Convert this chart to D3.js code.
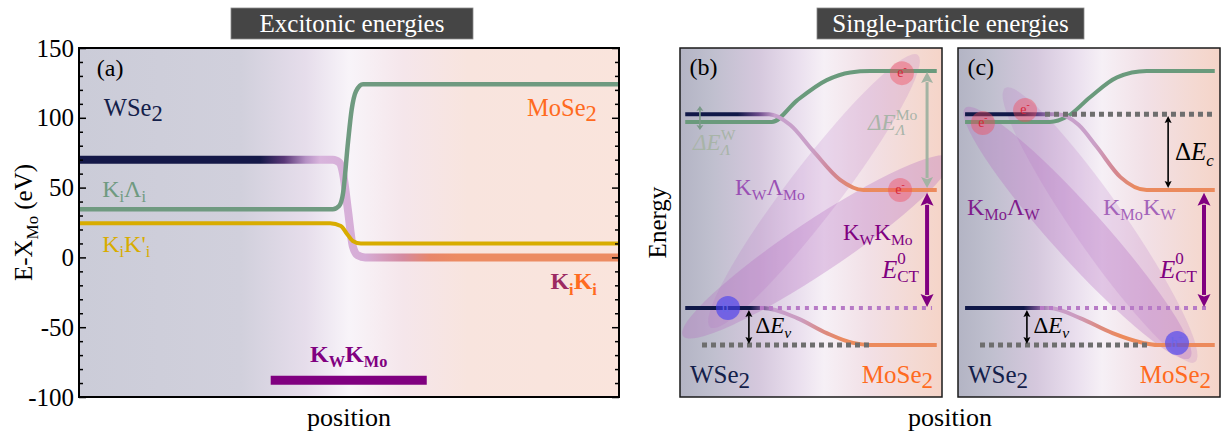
<!DOCTYPE html>
<html lang="en">
<head>
<meta charset="UTF-8">
<title>Excitonic and single-particle energies</title>
<script src="https://cdnjs.cloudflare.com/ajax/libs/d3/7.8.5/d3.min.js"></script>
<style>
  body { margin: 0; background: #fff; }
  svg { display: block; font-family: "Liberation Serif", "Times New Roman", serif; }
</style>
</head>
<body>
<svg id="fig" width="1227" height="434" font-family="Liberation Serif, serif"></svg>
<script>
// ---------- panel (a): excitonic energies, E - X_Mo vs position (0..100)
const yTicksA = [-100, -50, 0, 50, 100, 150];
const yTickLabelsA = ["-100", "-50", "0", "50", "100", "150"];
const yMinorA = [-90, -80, -70, -60, -40, -30, -20, -10, 10, 20, 30, 40, 60, 70, 80, 90, 110, 120, 130, 140];

const kikiA = [[0, 70], [47, 70], [48.2, 68], [48.9, 60], [49.8, 34], [50.7, 8], [51.6, 1.5], [53, 0], [100, 0]];
const kiLamA = [[0, 34.5], [47, 34.5], [48.2, 37], [48.9, 46], [49.8, 82], [50.5, 106], [51.3, 119], [52.6, 124], [100, 124]];
const kiKpA = [[0, 24.5], [46.5, 24.5], [48.5, 22.5], [49.6, 17], [50.7, 11.8], [52.2, 10], [100, 10]];
const kwkmoA = [[35.5, -88], [64.4, -88]];

// ---------- panels (b), (c): single-particle bands, arbitrary energy 0..100
const lamB = [[2, 78.8], [35, 78.8], [44.7, 85], [56, 90.8], [65, 93], [72.5, 93.4], [98, 93.4]];
const cbB = [[2, 81], [34, 81], [42, 78], [50.8, 70.5], [61, 62.3], [70, 59.3], [98, 59.3]];
const vbB = [[2, 25.5], [31.7, 25.5], [44.7, 22.6], [56, 18.3], [66, 15.5], [72.5, 14.9], [98, 14.9]];

const lamC = [[2.7, 78.8], [35, 78.8], [42, 80.5], [50.4, 85.9], [60.7, 91.6], [72, 93.4], [98, 93.4]];
const cbC = [[2.7, 81], [38, 81], [46, 78], [53, 71.6], [62, 63], [72, 59.3], [98, 59.3]];
const vbC = [[2.7, 25.5], [35, 25.5], [46.6, 22.6], [59, 18.3], [70.6, 15.5], [76, 14.9], [98, 14.9]];

const dotsB = [{ e: 25.5, x0: 30.5, x1: 96.2, kind: "purple" }, { e: 14.9, x0: 8.4, x1: 73.3, kind: "gray" }];
const dotsC = [{ e: 81, x0: 33.2, x1: 97.3, kind: "gray" }, { e: 25.5, x0: 31.3, x1: 96.2, kind: "purple" }, { e: 14.9, x0: 8.4, x1: 73.3, kind: "gray" }];

const ellB = [{ from: [1.1, 17.5], to: [103, 68.5], kind: "dark" }, { from: [11.5, 20], to: [90.8, 98], kind: "light" }];
const ellC = [{ from: [2.7, 82.8], to: [88.5, 11.2], kind: "dark" }, { from: [17.9, 88.5], to: [90.5, 10], kind: "light" }];

const carriersB = [{ x: 84.7, e: 92.8, q: "e" }, { x: 84, e: 59.3, q: "e" }, { x: 18.3, e: 25.5, q: "h" }];
const carriersC = [{ x: 9.5, e: 78.5, q: "e" }, { x: 25.6, e: 82.2, q: "e" }, { x: 83.6, e: 15.5, q: "h" }];

const arrowsB = [{ x: 7.6, e1: 83.4, e2: 76.5, kind: "lamW" }, { x: 94.3, e1: 93.1, e2: 59.9, kind: "lamMo" },
                 { x: 94.3, e1: 58.5, e2: 25.8, kind: "ct" }, { x: 26.3, e1: 24.9, e2: 15.2, kind: "black" }];
const arrowsC = [{ x: 80.2, e1: 80.5, e2: 59.9, kind: "black" }, { x: 93.9, e1: 58.5, e2: 25.8, kind: "ct" },
                 { x: 26.3, e1: 24.9, e2: 15.2, kind: "black" }];

const svg = d3.select("#fig");
const defs = svg.append("defs");

const xA = d3.scaleLinear().domain([0, 100]).range([79, 619]);
const yA = d3.scaleLinear().domain([-100, 150]).range([397, 48]);
const xB = d3.scaleLinear().domain([0, 100]).range([680, 942]);
const xC = d3.scaleLinear().domain([0, 100]).range([958, 1220]);
const yS = d3.scaleLinear().domain([0, 100]).range([397, 48]);

function gradient(id, stops, x1, x2) {
    const g = defs.append("linearGradient").attr("id", id)
        .attr("gradientUnits", "userSpaceOnUse")
        .attr("x1", x1).attr("x2", x2).attr("y1", 0).attr("y2", 0);
    stops.forEach(s => g.append("stop").attr("offset", s[0]).attr("stop-color", s[1]));
}

function clip(id, x, y, w, h) {
    defs.append("clipPath").attr("id", id).append("rect")
        .attr("x", x).attr("y", y).attr("width", w).attr("height", h);
}

// text with sub/superscripts laid out piece by piece
function rich(parent, x, y, pieces, o) {
    const size = o.size;
    const outer = parent.append("g")
        .attr("transform", `translate(${x},${y})` + (o.rotate ? ` rotate(${o.rotate})` : ""));
    const g = outer.append("g");
    let cx = 0, pStart = 0, pEnd = 0;
    pieces.forEach(p => {
        const k = p.k || "n";
        const fs = size * (k === "n" ? 1 : (p.s || 0.68));
        const dy = size * (p.dy !== undefined ? p.dy : { n: 0, sub: 0.22, sup: -0.42, low: 0.2 }[k]);
        if (p.gap) cx += p.gap;
        const start = p.stack ? pStart : cx;
        const t = g.append("text").attr("x", start).attr("y", dy)
            .attr("font-size", fs).attr("fill", p.c || o.color).text(p.t);
        if (p.i) t.attr("font-style", "italic");
        if (o.bold) t.attr("font-weight", "bold");
        const w = t.node().getComputedTextLength();
        if (p.stack) cx = Math.max(pEnd, start + w);
        else { pStart = start; pEnd = start + w; cx = pEnd; }
    });
    const shift = o.anchor === "end" ? -cx : o.anchor === "middle" ? -cx / 2 : 0;
    g.attr("transform", `translate(${shift},0)`);
    return outer;
}

function titleBox(x0, x1, label) {
    svg.append("rect").attr("x", x0).attr("y", 8).attr("width", x1 - x0).attr("height", 31)
        .attr("fill", "#454545").attr("stroke", "#8a8a8a").attr("stroke-width", 0.8);
    svg.append("text").attr("x", (x0 + x1) / 2).attr("y", 32).attr("text-anchor", "middle")
        .attr("font-size", 25).attr("fill", "#fff").text(label);
}

// ================= panel (a)
gradient("bgA", [[0, "#cbccd8"], [0.3, "#d1d0dc"], [0.42, "#e6ddeb"], [0.5, "#f8f4f9"],
                 [0.6, "#f5e6eb"], [0.72, "#f8e4de"], [1, "#fae4dc"]], xA(0), xA(100));
gradient("kkA", [[0, "#141848"], [0.335, "#141848"], [0.38, "#5a3878"], [0.42, "#b590c4"], [0.446, "#d8b4dc"],
                 [0.53, "#d6acd6"], [0.6, "#d48aa0"], [0.65, "#e8866a"], [0.7, "#ec8b62"], [1, "#ec8b62"]], xA(0), xA(100));
clip("clipA", xA(0), yA(150), xA(100) - xA(0), yA(-100) - yA(150));

const gA = svg.append("g");
gA.append("rect").attr("x", xA(0)).attr("y", yA(150)).attr("width", xA(100) - xA(0))
    .attr("height", yA(-100) - yA(150)).attr("fill", "url(#bgA)");

const lineA = d3.line().x(d => xA(d[0])).y(d => yA(d[1])).curve(d3.curveMonotoneX);
const plotA = gA.append("g").attr("clip-path", "url(#clipA)");
plotA.append("path").attr("d", lineA(kikiA)).attr("fill", "none").attr("stroke", "url(#kkA)").attr("stroke-width", 8);
plotA.append("path").attr("d", lineA(kiLamA)).attr("fill", "none").attr("stroke", "#6f9a80").attr("stroke-width", 4.5);
plotA.append("path").attr("d", lineA(kiKpA)).attr("fill", "none").attr("stroke", "#d8ac00").attr("stroke-width", 4);
plotA.append("path").attr("d", d3.line().x(d => xA(d[0])).y(d => yA(d[1]))(kwkmoA))
    .attr("fill", "none").attr("stroke", "#800080").attr("stroke-width", 9);

function axisStyle(sel) {
    sel.select(".domain").remove();
    sel.attr("font-family", null).attr("font-size", 25);
    sel.selectAll("line").attr("stroke", "#000").attr("stroke-width", 1.5);
    sel.selectAll("text").attr("fill", "#000");
}
gA.append("g").attr("transform", `translate(${xA(0)},0)`)
    .call(d3.axisLeft(yA).tickValues(yTicksA).tickFormat(d => yTickLabelsA[yTicksA.indexOf(d)]).tickSize(-7).tickPadding(5))
    .call(axisStyle);
gA.append("g").attr("transform", `translate(${xA(0)},0)`)
    .call(d3.axisLeft(yA).tickValues(yMinorA).tickFormat("").tickSize(-4)).call(axisStyle);
gA.append("g").attr("transform", `translate(${xA(100)},0)`)
    .call(d3.axisRight(yA).tickValues(yTicksA).tickFormat("").tickSize(-7)).call(axisStyle);
gA.append("g").attr("transform", `translate(${xA(100)},0)`)
    .call(d3.axisRight(yA).tickValues(yMinorA).tickFormat("").tickSize(-4)).call(axisStyle);

gA.append("rect").attr("x", xA(0)).attr("y", yA(150)).attr("width", xA(100) - xA(0))
    .attr("height", yA(-100) - yA(150)).attr("fill", "none").attr("stroke", "#000").attr("stroke-width", 2);

rich(gA, xA(3.3), yA(130), [{ t: "(a)" }], { size: 24, color: "#000" });
rich(gA, xA(4.6), yA(101.5), [{ t: "WSe" }, { t: "2", k: "low", s: 0.92 }], { size: 24.5, color: "#14204a" });
rich(gA, xA(95.9), yA(101.5), [{ t: "MoSe" }, { t: "2", k: "low", s: 0.92 }], { size: 24.5, color: "#ff6a20", anchor: "end" });
rich(gA, xA(4.3), yA(43.5), [{ t: "K" }, { t: "i", k: "sub" }, { t: "Λ" }, { t: "i", k: "sub" }], { size: 24, color: "#6f9a80" });
rich(gA, xA(4.3), yA(4), [{ t: "K" }, { t: "i", k: "sub" }, { t: "K'" }, { t: "i", k: "sub" }], { size: 24, color: "#d8ac00" });
rich(gA, xA(95.9), yA(-22.9), [{ t: "K", c: "#9c2a62" }, { t: "i", k: "sub", c: "#ff6a20" }, { t: "K", c: "#ff6a20" }, { t: "i", k: "sub", c: "#ff6a20" }],
    { size: 24, color: "#ff6a20", bold: true, anchor: "end" });
rich(gA, xA(42.8), yA(-75), [{ t: "K" }, { t: "W", k: "sub" }, { t: "K" }, { t: "Mo", k: "sub" }], { size: 24, color: "#800080", bold: true });

rich(svg, 32, (yA(150) + yA(-100)) / 2, [{ t: "E-X" }, { t: "Mo", k: "sub" }, { t: "(eV)", gap: 6 }],
    { size: 25, color: "#000", rotate: -90, anchor: "middle" });
svg.append("text").attr("x", (xA(0) + xA(100)) / 2).attr("y", 426).attr("text-anchor", "middle")
    .attr("font-size", 26).text("position");
titleBox(231, 473, "Excitonic energies");

// ================= panels (b), (c)
const bgStops = [[0, "#b3b4c4"], [0.12, "#bfbfce"], [0.3, "#d5c8dd"], [0.45, "#eadfee"], [0.55, "#f6f0f6"],
                 [0.72, "#f2e0e6"], [0.9, "#f4d9d2"], [1, "#f5d4c8"]];

function drawPanel(id, x, lam, cb, vb, dots, ells, carriers, arrows, cbStops, vbStops) {
    const [x0, x1] = x.range();
    const top = yS(100), bot = yS(0);
    gradient("bg" + id, bgStops, x0, x1);
    gradient("cb" + id, cbStops, x0, x1);
    gradient("vb" + id, vbStops, x0, x1);
    clip("clip" + id, x0, top, x1 - x0, bot - top);

    const g = svg.append("g");
    g.append("rect").attr("x", x0).attr("y", top).attr("width", x1 - x0).attr("height", bot - top).attr("fill", `url(#bg${id})`);
    const p = g.append("g").attr("clip-path", `url(#clip${id})`);

    // exciton ellipses, drawn from end point to end point
    ells.forEach(el => {
        const ax = x(el.from[0]), ay = yS(el.from[1]), bx = x(el.to[0]), by = yS(el.to[1]);
        const len = Math.hypot(bx - ax, by - ay) / 2;
        const ang = Math.atan2(by - ay, bx - ax) * 180 / Math.PI;
        p.append("ellipse").attr("cx", 0).attr("cy", 0).attr("rx", len).attr("ry", 26)
            .attr("transform", `translate(${(ax + bx) / 2},${(ay + by) / 2}) rotate(${ang})`)
            .attr("fill", "#b46cc2").attr("opacity", el.kind === "dark" ? 0.32 : 0.2);
    });

    const line = d3.line().x(d => x(d[0])).y(d => yS(d[1])).curve(d3.curveMonotoneX);
    p.append("path").attr("d", line(lam)).attr("fill", "none").attr("stroke", "#6a9a7c").attr("stroke-width", 4);
    p.append("path").attr("d", line(cb)).attr("fill", "none").attr("stroke", `url(#cb${id})`).attr("stroke-width", 4);
    p.append("path").attr("d", line(vb)).attr("fill", "none").attr("stroke", `url(#vb${id})`).attr("stroke-width", 4);

    dots.forEach(d => {
        p.append("line").attr("x1", x(d.x0)).attr("x2", x(d.x1)).attr("y1", yS(d.e)).attr("y2", yS(d.e))
            .attr("stroke", d.kind === "gray" ? "#6e6e6e" : "#b77ac6")
            .attr("stroke-width", d.kind === "gray" ? 5 : 4)
            .attr("stroke-dasharray", d.kind === "gray" ? "5 4" : "4 5");
    });

    carriers.forEach(c => {
        const cx = x(c.x), cy = yS(c.e);
        p.append("circle").attr("cx", cx).attr("cy", cy).attr("r", 12)
            .attr("fill", c.q === "e" ? "#f04a5a" : "#4a44f0").attr("opacity", c.q === "e" ? 0.42 : 0.65);
        rich(p, cx, cy + 4, [{ t: c.q }, { t: c.q === "e" ? "-" : "+", k: "sup", s: 0.7 }],
            { size: 14, color: c.q === "e" ? "#d8283c" : "#6a66e8", anchor: "middle" });
    });

    const arrowStyle = {
        black: { c: "#000", w: 1.6, L: 7, W: 3.5 },
        ct: { c: "#800080", w: 4, L: 13, W: 6.5 },
        lamMo: { c: "#a3b3a3", w: 3, L: 11, W: 6 },
        lamW: { c: "#7a9a88", w: 1.6, L: 5, W: 3.5 }
    };
    arrows.forEach(a => {
        const s = arrowStyle[a.kind];
        const ax = x(a.x), yt = yS(a.e1), yb = yS(a.e2);
        g.append("line").attr("x1", ax).attr("x2", ax).attr("y1", yt + s.L - 1).attr("y2", yb - s.L + 1)
            .attr("stroke", s.c).attr("stroke-width", s.w);
        g.append("path").attr("d", `M${ax},${yt}L${ax - s.W},${yt + s.L}L${ax},${yt + s.L * 0.8}L${ax + s.W},${yt + s.L}Z`).attr("fill", s.c);
        g.append("path").attr("d", `M${ax},${yb}L${ax - s.W},${yb - s.L}L${ax},${yb - s.L * 0.8}L${ax + s.W},${yb - s.L}Z`).attr("fill", s.c);
    });

    g.append("rect").attr("x", x0).attr("y", top).attr("width", x1 - x0).attr("height", bot - top)
        .attr("fill", "none").attr("stroke", "#1a1a1a").attr("stroke-width", 1.5);

    rich(g, x(3.6), yS(92.3), [{ t: "(" + id + ")" }], { size: 24, color: "#000" });
    rich(g, x(3.8), yS(4), [{ t: "WSe" }, { t: "2", k: "low", s: 0.92 }], { size: 25, color: "#14204a" });
    rich(g, x(96.6), yS(4), [{ t: "MoSe" }, { t: "2", k: "low", s: 0.92 }], { size: 25, color: "#ff6a20", anchor: "end" });
    rich(g, x(77.1), yS(34.1), [{ t: "E", i: true }, { t: "0", k: "sup", dy: -0.55 }, { t: "CT", k: "sub", stack: true, dy: 0.16 }],
        { size: 25, color: "#800080" });
    rich(g, x(28.8), yS(18.3), [{ t: "Δ" }, { t: "E", i: true }, { t: "v", k: "sub", i: true }], { size: 23, color: "#000" });
    return g;
}

const gB = drawPanel("b", xB, lamB, cbB, vbB, dotsB, ellB, carriersB, arrowsB,
    [[0, "#101848"], [0.22, "#101848"], [0.3, "#6a4a8a"], [0.36, "#c6a0cc"], [0.5, "#caa0c8"], [0.58, "#d08494"], [0.68, "#ea8a5e"], [1, "#ec8a5c"]],
    [[0, "#101848"], [0.27, "#101848"], [0.31, "#6a4a8a"], [0.36, "#c6a0cc"], [0.46, "#cc9cc0"], [0.55, "#dc8a80"], [0.63, "#ec8a5c"], [1, "#ec8a5c"]]);
rich(gB, xB(5), yS(70.8), [{ t: "ΔE", i: true }, { t: "W", k: "sup" }, { t: "Λ", k: "sub", i: true, stack: true }],
    { size: 23, color: "#a8b4a8" });
rich(gB, xB(71.8), yS(76.5), [{ t: "ΔE", i: true }, { t: "Mo", k: "sup" }, { t: "Λ", k: "sub", i: true, stack: true }],
    { size: 23, color: "#a8b4a8" });
rich(gB, xB(21), yS(57.9), [{ t: "K" }, { t: "W", k: "sub" }, { t: "Λ" }, { t: "Mo", k: "sub" }], { size: 23, color: "#9a50b4" });
rich(gB, xB(62.2), yS(45), [{ t: "K" }, { t: "W", k: "sub" }, { t: "K" }, { t: "Mo", k: "sub" }], { size: 23, color: "#800080" });

const gC = drawPanel("c", xC, lamC, cbC, vbC, dotsC, ellC, carriersC, arrowsC,
    [[0, "#101848"], [0.25, "#101848"], [0.31, "#6a4a8a"], [0.38, "#c6a0cc"], [0.52, "#caa0c8"], [0.6, "#d48690"], [0.68, "#ea8a5e"], [1, "#ec8a5c"]],
    [[0, "#101848"], [0.25, "#101848"], [0.3, "#6a4a8a"], [0.35, "#c6a0cc"], [0.45, "#cc9cc0"], [0.54, "#dc8a80"], [0.62, "#ec8a5c"], [1, "#ec8a5c"]]);
rich(gC, xC(82.8), yS(67.9), [{ t: "Δ" }, { t: "E", i: true }, { t: "c", k: "sub", i: true }], { size: 25, color: "#000" });
rich(gC, xC(3.4), yS(52.1), [{ t: "K" }, { t: "Mo", k: "sub" }, { t: "Λ" }, { t: "W", k: "sub" }], { size: 24, color: "#801c8c" });
rich(gC, xC(55.3), yS(52.1), [{ t: "K" }, { t: "Mo", k: "sub" }, { t: "K" }, { t: "W", k: "sub" }], { size: 24, color: "#a464ba" });

rich(svg, 666, (yS(100) + yS(0)) / 2, [{ t: "Energy" }], { size: 25, color: "#000", rotate: -90, anchor: "middle" });
svg.append("text").attr("x", (xB(0) + xC(100)) / 2).attr("y", 426).attr("text-anchor", "middle")
    .attr("font-size", 26).text("position");
titleBox(817, 1084, "Single-particle energies");
</script>
</body>
</html>
